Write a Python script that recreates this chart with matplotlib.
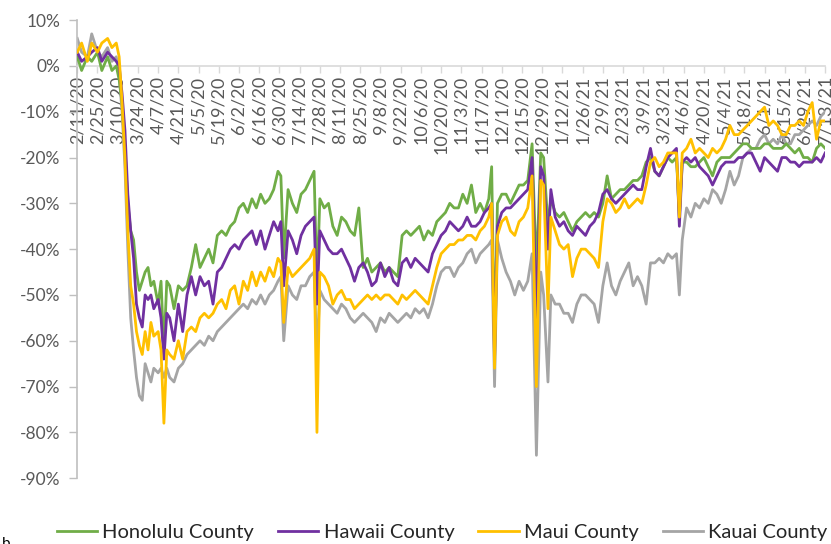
import pandas as pd
import matplotlib
matplotlib.use("Agg")
import matplotlib.pyplot as plt

plt.rcParams['font.family'] = ['Lato', 'DejaVu Sans']

# -----------------------------
# DATA (% change vs. baseline)
# -----------------------------
start = pd.Timestamp("2020-02-11")
end = pd.Timestamp("2021-07-13")

day_offset = [0, 3, 7, 10, 14, 17, 21, 24, 27, 29, 31, 33, 35, 37, 39, 41, 43, 45, 47, 49,
              51, 53, 56, 58, 60, 62, 64, 67, 70, 73, 76, 79, 82, 85, 88, 91, 94, 97, 100, 103,
              106, 109, 112, 115, 118, 121, 124, 127, 130, 133, 136, 139, 141, 143, 146, 149, 152, 155, 158, 161,
              164, 166, 168, 171, 174, 177, 180, 183, 186, 189, 192, 195, 198, 201, 204, 207, 210, 213, 216, 219,
              222, 225, 228, 231, 234, 237, 240, 243, 246, 249, 252, 255, 258, 261, 264, 267, 270, 273, 276, 279,
              282, 285, 287, 289, 291, 294, 297, 300, 303, 306, 309, 312, 315, 318, 321, 323, 326, 328, 331, 334,
              337, 340, 343, 346, 349, 352, 355, 358, 361, 364, 367, 370, 373, 376, 379, 382, 385, 388, 391, 394,
              397, 400, 403, 406, 409, 412, 415, 417, 419, 422, 425, 428, 431, 434, 437, 440, 443, 446, 449, 452,
              455, 458, 461, 464, 467, 470, 473, 476, 479, 482, 485, 488, 491, 494, 497, 500, 503, 506, 509, 512,
              515, 518]

honolulu = [2, -1, 2, 1, 3, -1, 2, -1, 0, -3, -8, -18, -30, -36, -38, -45, -49, -47, -45, -44,
            -48, -47, -52, -47, -62, -47, -48, -53, -48, -49, -48, -44, -39, -44, -42, -40, -43, -37, -36, -37,
            -35, -34, -31, -30, -32, -29, -31, -28, -30, -29, -27, -23, -24, -42, -27, -30, -32, -28, -27, -25,
            -23, -48, -29, -31, -30, -35, -37, -33, -34, -36, -37, -31, -44, -42, -45, -44, -43, -45, -44, -45,
            -46, -37, -36, -37, -36, -35, -38, -36, -37, -34, -33, -32, -30, -31, -31, -28, -30, -26, -32, -30,
            -32, -29, -22, -62, -30, -28, -28, -30, -28, -26, -26, -25, -17, -45, -19, -20, -35, -29, -32, -33,
            -32, -34, -36, -34, -33, -32, -33, -32, -33, -30, -24, -29, -28, -27, -27, -26, -25, -25, -24, -21,
            -20, -23, -24, -22, -20, -21, -20, -33, -21, -21, -22, -22, -21, -20, -22, -24, -21, -20, -20, -20,
            -19, -18, -17, -17, -18, -18, -18, -17, -17, -18, -18, -18, -17, -18, -19, -18, -20, -20, -21, -18,
            -17, -18]

hawaii = [3, 1, 2, 3, 4, 1, 3, 2, 1, 0, -6, -14, -28, -36, -42, -52, -55, -57, -50, -51,
          -50, -53, -51, -55, -64, -54, -55, -60, -52, -58, -50, -46, -50, -46, -48, -47, -52, -45, -44, -42,
          -40, -39, -40, -38, -37, -36, -39, -36, -40, -37, -34, -36, -34, -48, -36, -38, -41, -37, -35, -34,
          -33, -52, -36, -38, -40, -41, -41, -40, -42, -44, -47, -44, -43, -45, -48, -47, -43, -46, -44, -47,
          -48, -43, -42, -44, -42, -43, -44, -45, -41, -39, -37, -36, -34, -35, -36, -35, -33, -35, -35, -34,
          -32, -31, -30, -64, -35, -32, -31, -31, -30, -29, -28, -27, -20, -55, -22, -24, -40, -27, -33, -35,
          -34, -36, -37, -35, -36, -37, -35, -34, -32, -28, -27, -29, -30, -29, -28, -27, -26, -27, -27, -22,
          -18, -23, -24, -22, -20, -19, -18, -35, -21, -20, -21, -20, -22, -23, -24, -26, -24, -22, -21, -21,
          -21, -20, -20, -19, -19, -21, -23, -20, -21, -22, -23, -20, -20, -21, -21, -22, -21, -21, -21, -20,
          -21, -19]

maui = [3, 5, 1, 5, 3, 5, 6, 4, 5, 2, -8, -20, -36, -48, -52, -58, -61, -63, -58, -62,
        -56, -59, -58, -62, -78, -62, -63, -64, -60, -64, -58, -57, -58, -55, -54, -55, -54, -52, -51, -53,
        -49, -48, -52, -47, -49, -45, -48, -45, -47, -44, -46, -42, -43, -56, -44, -46, -45, -44, -43, -42,
        -40, -80, -45, -46, -48, -52, -50, -49, -51, -51, -53, -52, -51, -50, -51, -50, -51, -50, -50, -51,
        -52, -50, -51, -50, -49, -50, -51, -52, -48, -44, -41, -40, -39, -39, -38, -38, -37, -37, -38, -36,
        -35, -33, -30, -66, -37, -34, -33, -36, -37, -34, -33, -31, -24, -70, -25, -26, -53, -33, -36, -39,
        -40, -39, -46, -42, -40, -40, -41, -42, -44, -34, -29, -30, -32, -31, -29, -31, -30, -29, -30, -26,
        -21, -20, -22, -21, -19, -19, -19, -33, -19, -18, -16, -19, -18, -19, -20, -18, -19, -18, -16, -13,
        -15, -15, -14, -13, -12, -11, -10, -9, -13, -12, -13, -15, -15, -13, -13, -12, -13, -10, -8, -16,
        -12, -12]

kauai = [6, 3, 2, 7, 3, 2, 4, 1, 2, -2, -10, -22, -40, -55, -62, -68, -72, -73, -65, -67,
         -69, -66, -67, -66, -68, -66, -68, -69, -66, -65, -63, -62, -61, -60, -61, -59, -60, -58, -57, -56,
         -55, -54, -53, -52, -53, -51, -52, -50, -52, -50, -49, -47, -46, -60, -48, -50, -51, -48, -48, -46,
         -45, -63, -49, -51, -52, -53, -54, -52, -53, -55, -56, -55, -54, -55, -56, -58, -55, -56, -54, -55,
         -56, -55, -54, -55, -53, -54, -53, -55, -52, -48, -45, -44, -44, -46, -44, -43, -41, -40, -43, -41,
         -40, -39, -38, -70, -38, -42, -45, -47, -50, -47, -49, -47, -41, -85, -45, -50, -69, -50, -52, -52,
         -54, -54, -56, -52, -50, -50, -51, -52, -56, -48, -43, -48, -50, -47, -45, -43, -48, -46, -48, -52,
         -43, -43, -42, -43, -41, -42, -41, -50, -38, -31, -33, -30, -31, -29, -30, -27, -28, -30, -27, -23,
         -26, -24, -20, -19, -18, -18, -16, -15, -17, -16, -17, -15, -17, -17, -15, -15, -14, -13, -12, -13,
         -11, -10]

series_names = ["Honolulu County", "Hawaii County", "Maui County", "Kauai County"]
series_values = [honolulu, hawaii, maui, kauai]
series_colors = ["#70AD47", "#7030A0", "#FFC000", "#A5A5A5"]

dates = start + pd.to_timedelta(day_offset, unit="D")
df = pd.DataFrame(dict(zip(series_names, series_values)), index=dates)

# -----------------------------
# VISUALIZATION
# -----------------------------
fig = plt.figure(figsize=(8.31, 5.44), dpi=100)
ax = fig.add_axes([0.093, 0.121, 0.900, 0.842])

# draw order: Kauai underneath, Maui on top
zorders = {"Kauai County": 2, "Honolulu County": 3, "Hawaii County": 4, "Maui County": 5}
lines = {}
for name, color in zip(series_names, series_colors):
    lines[name], = ax.plot(df.index, df[name] / 100, color=color, lw=2.0,
                           zorder=zorders[name], solid_joinstyle="round")

ax.set_xlim(start, end)
ax.set_ylim(-0.9, 0.1)

# y axis
yticks = [v / 100 for v in range(10, -91, -10)]
ax.set_yticks(yticks)
ax.set_yticklabels([f"{int(round(v * 100))}%" for v in yticks])
ax.tick_params(axis="y", colors="#BFBFBF", labelcolor="#595959", labelsize=12.5,
               length=6, width=1, direction="out", pad=6)

# x axis crossing at 0%
tick_dates = pd.date_range(start, end, freq="14D")
ax.set_xticks(tick_dates)
ax.set_xticklabels([f"{d.month}/{d.day}/{d.year % 100}" for d in tick_dates])
ax.tick_params(axis="x", colors="#D9D9D9", labelcolor="#595959", labelsize=13,
               length=5, width=1, direction="out", pad=2, labelrotation=90)
for lbl in ax.get_xticklabels():
    lbl.set_verticalalignment("top")
    lbl.set_horizontalalignment("center")

ax.spines["bottom"].set_position(("data", 0))
ax.spines["bottom"].set_color("#D9D9D9")
ax.spines["bottom"].set_linewidth(1.2)
ax.spines["left"].set_color("#BFBFBF")
ax.spines["left"].set_linewidth(1.2)
ax.spines["top"].set_visible(False)
ax.spines["right"].set_visible(False)

leg = fig.legend([lines[n] for n in series_names], series_names,
                 loc="center", bbox_to_anchor=(0.532, 0.022), ncol=4, frameon=False,
                 fontsize=14.5, handlelength=2.0, handletextpad=0.25, columnspacing=1.2)
for t in leg.get_texts():
    t.set_color("#262626")

fig.text(0.002, 0.0, "b", fontsize=11, color="#000000", va="center", ha="left")

fig.savefig("out.png", dpi=100)
